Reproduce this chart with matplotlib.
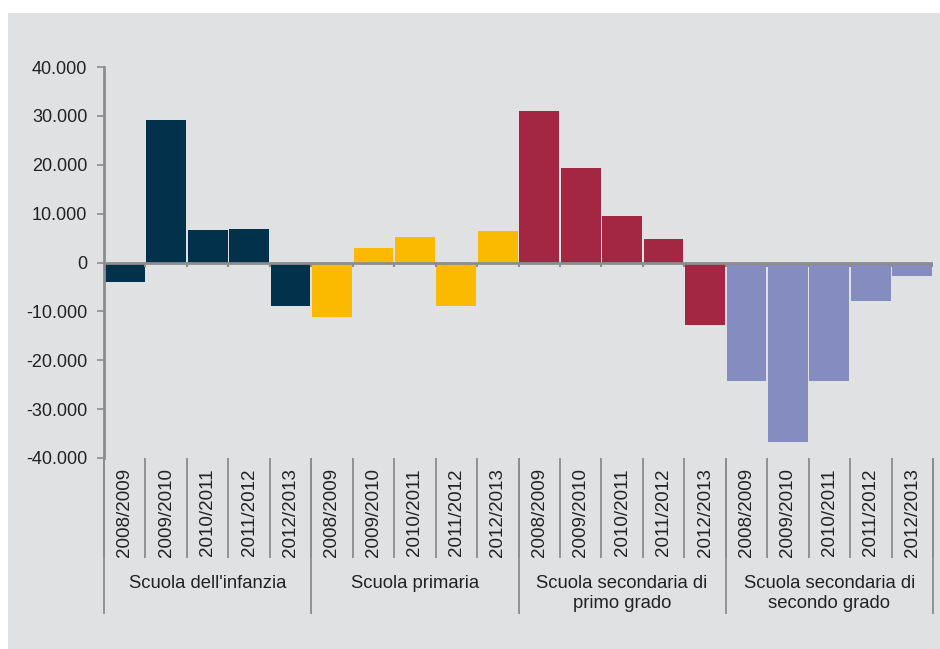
import numpy as np
import matplotlib
matplotlib.use("Agg")
import matplotlib.pyplot as plt
from matplotlib.patches import Rectangle
from matplotlib.transforms import blended_transform_factory

plt.rcParams['font.family'] = ['Liberation Sans', 'DejaVu Sans']

# data
groups = ["Scuola dell'infanzia", "Scuola primaria",
          "Scuola secondaria di\nprimo grado", "Scuola secondaria di\nsecondo grado"]
years = ["2008/2009", "2009/2010", "2010/2011", "2011/2012", "2012/2013"]
infanzia = [-3900, 29200, 6700, 6900, -9000]
primaria = [-11200, 2900, 5300, -8900, 6500]
sec_primo = [30900, 19300, 9500, 4800, -12800]
sec_secondo = [-24200, -36700, -24200, -7900, -2800]
colors = ['#02324b', '#fbba00', '#a32742', '#858cbf']

series = [infanzia, primaria, sec_primo, sec_secondo]
values = np.concatenate(series)
bar_colors = [c for c, s in zip(colors, series) for _ in s]
x = np.arange(len(values))

fig = plt.figure(figsize=(9.4, 6.49), dpi=100)
fig.patches.append(Rectangle((8 / 940, 0), 1 - 8 / 940, 1 - 13 / 649,
                             transform=fig.transFigure, facecolor='#e0e1e3',
                             edgecolor='none', zorder=-10))

ax = fig.add_axes([104 / 940, 1 - 458 / 649, (933 - 104) / 940, (458 - 67) / 649])
ax.patch.set_visible(False)

ax.bar(x, values, width=0.96, color=bar_colors, zorder=2)

grey = '#8c8c8c'
ax.axhline(0, color=grey, lw=2, zorder=3)
ax.set_xlim(-0.5, len(values) - 0.5)
ax.set_ylim(-40000, 40000)
ax.set_yticks(np.arange(-40000, 40001, 10000))
ax.set_yticklabels([f"{v:,}".replace(',', '.') for v in range(-40000, 40001, 10000)],
                   fontsize=13, color='#222222')
ax.tick_params(axis='y', direction='out', length=5, width=1.2, color=grey, pad=7)
ax.set_xticks([])
for s in ['top', 'right', 'bottom']:
    ax.spines[s].set_visible(False)
ax.spines['left'].set_color(grey)
ax.spines['left'].set_linewidth(2)

# small ticks on the zero line between bars
bounds = np.arange(len(values) + 1) - 0.5
ax.vlines(bounds[1:], 0, -1000, color=grey, lw=1.5, zorder=3)

# category axis below the plot
tr = blended_transform_factory(ax.transData, ax.transAxes)
ax.vlines(bounds, 0, -0.256, transform=tr, color=grey, lw=1.3, clip_on=False)
ax.vlines(bounds[::len(years)], 0, -0.40, transform=tr, color=grey, lw=1.3, clip_on=False)

labels = years * len(groups)
for xi, lab in zip(x, labels):
    ax.text(xi, -0.14, lab, transform=tr, rotation=90, ha='center', va='center',
            fontsize=13.5, color='#222222')
for gi, g in enumerate(groups):
    xc = gi * len(years) + (len(years) - 1) / 2
    ax.text(xc, -0.298, g, transform=tr, ha='center', va='top', fontsize=13.3,
            color='#222222', linespacing=1.3, multialignment='center')

fig.savefig('out.png', dpi=100)
